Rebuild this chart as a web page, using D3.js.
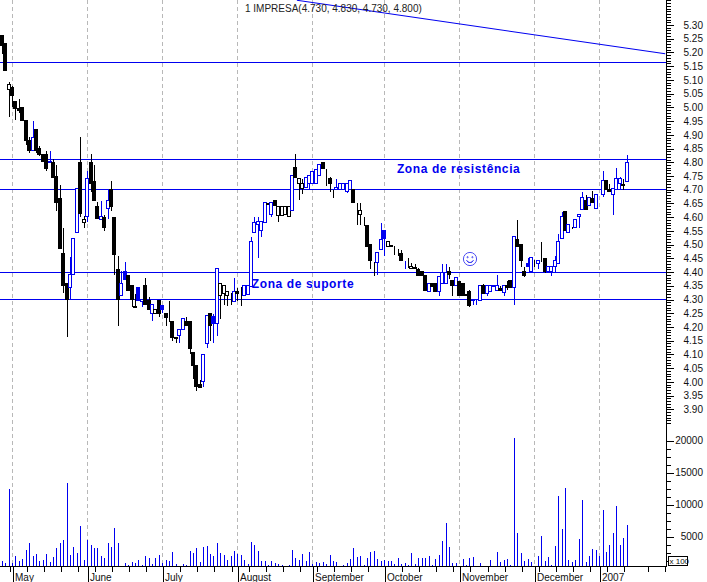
<!DOCTYPE html>
<html><head><meta charset="utf-8">
<script src="https://cdn.jsdelivr.net/npm/d3@7"></script>
<style>
html,body{margin:0;padding:0;background:#fff;overflow:hidden}
svg{display:block}
text{font-family:"Liberation Sans",Arial,sans-serif}
</style></head><body><div id="chart"></div>
<script>
const opens=[5.263,5.234,5.066,5.073,5.022,4.995,5.000,4.953,4.880,4.841,
4.920,4.851,4.829,4.829,4.798,4.800,4.749,4.669,4.469,4.359,
4.345,4.392,4.543,4.800,4.579,4.601,4.800,4.731,4.640,4.591,
4.599,4.633,4.701,4.600,4.410,4.313,4.403,4.389,4.352,4.276,
4.342,4.294,4.352,4.297,4.249,4.249,4.297,4.279,4.249,4.221,
4.221,4.160,4.169,4.191,4.221,4.221,4.107,4.061,3.990,4.000,
4.140,4.250,4.239,4.213,4.315,4.322,4.315,4.325,4.293,4.330,
4.322,4.316,4.319,4.346,4.544,4.575,4.550,4.581,4.647,4.611,
4.661,4.607,4.607,4.610,4.601,4.623,4.782,4.723,4.704,4.708,
4.723,4.723,4.723,4.753,4.799,4.750,4.741,4.702,4.701,4.701,
4.701,4.692,4.701,4.701,4.652,4.610,4.601,4.571,4.500,4.437,
4.433,4.482,4.552,4.494,4.494,4.494,4.470,4.468,4.441,4.437,
4.413,4.413,4.409,4.401,4.386,4.328,4.358,4.359,4.328,4.358,
4.358,4.401,4.370,4.350,4.367,4.358,4.319,4.328,4.295,4.300,
4.297,4.352,4.322,4.328,4.346,4.334,4.340,4.324,4.352,4.370,
4.344,4.520,4.502,4.401,4.431,4.403,4.435,4.431,4.437,4.449,
4.403,4.403,4.419,4.431,4.522,4.622,4.544,4.567,4.562,4.601,
4.629,4.662,4.644,4.668,4.632,4.684,4.684,4.732,4.702,4.682,
4.702,4.723,4.718,4.730];
const closes=[5.224,5.133,5.084,5.042,4.995,4.990,4.953,4.880,4.844,4.891,
4.844,4.829,4.801,4.778,4.801,4.743,4.652,4.484,4.350,4.300,
4.392,4.523,4.704,4.613,4.593,4.742,4.723,4.662,4.595,4.603,
4.564,4.662,4.640,4.465,4.301,4.360,4.373,4.331,4.301,4.272,
4.295,4.301,4.282,4.264,4.280,4.265,4.249,4.264,4.233,4.220,
4.160,4.158,4.192,4.231,4.206,4.120,4.061,3.982,3.980,4.101,
4.242,4.204,4.211,4.413,4.360,4.350,4.328,4.325,4.328,4.322,
4.321,4.350,4.350,4.512,4.581,4.583,4.583,4.653,4.650,4.653,
4.641,4.640,4.639,4.638,4.637,4.750,4.743,4.742,4.723,4.743,
4.753,4.765,4.774,4.792,4.779,4.750,4.723,4.702,4.707,4.723,
4.723,4.723,4.733,4.653,4.652,4.623,4.601,4.492,4.441,4.437,
4.471,4.520,4.521,4.512,4.498,4.494,4.470,4.441,4.441,4.437,
4.419,4.418,4.389,4.386,4.331,4.360,4.348,4.330,4.385,4.398,
4.398,4.391,4.350,4.380,4.316,4.315,4.314,4.279,4.300,4.300,
4.352,4.322,4.352,4.352,4.352,4.352,4.331,4.352,4.345,4.344,
4.529,4.492,4.441,4.389,4.419,4.453,4.435,4.441,4.437,4.403,
4.419,4.421,4.441,4.511,4.603,4.550,4.573,4.567,4.591,4.610,
4.670,4.629,4.672,4.652,4.684,4.684,4.732,4.702,4.695,4.704,
4.741,4.741,4.715,4.800];
const highs=[5.263,5.234,5.095,5.081,5.022,5.032,5.000,4.953,4.892,4.953,
4.920,4.862,4.829,4.844,4.844,4.815,4.793,4.720,4.564,4.359,
4.455,4.523,4.704,4.892,4.607,4.771,4.833,4.793,4.656,4.662,
4.611,4.704,4.735,4.600,4.461,4.407,4.440,4.389,4.352,4.323,
4.342,4.301,4.380,4.312,4.280,4.265,4.297,4.279,4.249,4.297,
4.221,4.160,4.192,4.231,4.239,4.221,4.107,4.061,4.010,4.101,
4.242,4.250,4.250,4.413,4.360,4.350,4.328,4.325,4.380,4.344,
4.346,4.350,4.350,4.531,4.603,4.601,4.583,4.653,4.650,4.653,
4.661,4.640,4.639,4.638,4.637,4.750,4.832,4.742,4.742,4.743,
4.753,4.765,4.774,4.795,4.799,4.779,4.747,4.702,4.741,4.723,
4.723,4.723,4.733,4.701,4.653,4.652,4.603,4.571,4.500,4.437,
4.471,4.581,4.552,4.512,4.498,4.498,4.486,4.483,4.441,4.453,
4.435,4.431,4.418,4.401,4.386,4.360,4.358,4.359,4.385,4.431,
4.431,4.421,4.370,4.380,4.367,4.358,4.319,4.338,4.300,4.300,
4.352,4.360,4.352,4.352,4.352,4.392,4.350,4.352,4.370,4.370,
4.529,4.592,4.502,4.421,4.453,4.453,4.445,4.441,4.512,4.449,
4.419,4.421,4.461,4.540,4.622,4.622,4.573,4.567,4.591,4.610,
4.692,4.684,4.672,4.698,4.684,4.684,4.771,4.732,4.723,4.704,
4.781,4.749,4.741,4.830];
const lows=[5.197,5.133,4.965,5.002,4.956,4.983,4.953,4.866,4.834,4.841,
4.834,4.823,4.801,4.771,4.798,4.743,4.623,4.484,4.324,4.164,
4.301,4.392,4.543,4.603,4.564,4.583,4.692,4.662,4.595,4.591,
4.552,4.596,4.623,4.392,4.204,4.313,4.373,4.331,4.273,4.270,
4.295,4.273,4.282,4.264,4.222,4.249,4.237,4.251,4.204,4.220,
4.152,4.142,4.142,4.191,4.206,4.104,4.014,3.970,3.980,3.982,
4.124,4.152,4.142,4.170,4.231,4.282,4.279,4.282,4.293,4.297,
4.279,4.316,4.319,4.346,4.544,4.453,4.531,4.581,4.647,4.601,
4.641,4.583,4.607,4.610,4.601,4.623,4.743,4.664,4.686,4.708,
4.701,4.723,4.723,4.753,4.779,4.716,4.695,4.672,4.701,4.701,
4.701,4.690,4.701,4.653,4.573,4.573,4.571,4.492,4.413,4.389,
4.391,4.482,4.461,4.494,4.494,4.465,4.461,4.441,4.413,4.418,
4.413,4.413,4.389,4.386,4.331,4.328,4.348,4.330,4.313,4.358,
4.358,4.376,4.313,4.350,4.316,4.315,4.314,4.273,4.283,4.283,
4.297,4.322,4.316,4.328,4.346,4.334,4.331,4.316,4.338,4.344,
4.282,4.492,4.421,4.382,4.419,4.403,4.419,4.413,4.437,4.400,
4.403,4.389,4.403,4.431,4.522,4.550,4.544,4.560,4.562,4.562,
4.629,4.629,4.644,4.652,4.632,4.684,4.674,4.702,4.695,4.611,
4.702,4.702,4.702,4.730];
const volumes=[1200,900,12400,900,2000,1200,1500,2900,4000,2000,
2300,1200,1350,2300,1050,1800,3200,4000,4500,13400,
2150,3400,2450,6650,1350,4500,3700,3200,3200,2000,
1650,4000,3400,6350,4000,0,900,550,1050,900,
1350,550,2000,1650,750,1650,2150,900,1350,1200,
2600,750,0,750,550,2750,2450,3200,1050,3400,
3550,2300,2000,4000,2450,2150,1350,2000,2750,2300,
2150,1350,750,4150,3700,2750,1200,1200,550,1200,
900,750,550,0,550,2900,1650,1350,2300,1200,
2600,750,1050,900,1050,750,2150,1200,1050,0,
550,900,1500,3200,1800,2000,550,1650,2600,2750,
1500,1200,1350,1200,1200,750,1650,750,900,550,
2450,750,1650,1650,1650,2000,550,1500,2150,4300,
7100,3400,900,900,0,1500,550,1650,1800,0,
900,0,0,1350,0,2600,1050,1350,1500,550,
20400,5550,2450,1200,1500,1050,0,2000,5100,1200,
1800,550,3550,11350,6200,12600,1350,1050,1350,4650,
10700,1050,2000,3050,2900,2000,9150,2600,3700,5550,
9800,3700,4800,6800];

const monthLabels=["May","June","July","August","September","October","November","December","2007"];
const monthStarts=[3,25,47,69,91,112,134,156,175];
const weekTicks=[2,7,12,17,22,27,32,37,42,52,57,62,67,72,77,82,87,92,97,102,107,117,122,127,132,137,142,147,152,157,162,167,172,177,182,189,194];
const levels=[5.163,4.81,4.70,4.40,4.30];
const trendIdx=[86.3,194.2];
const trendPrice=[5.39,5.195];
const title="1 IMPRESA(4.730, 4.830, 4.730, 4.800)";
const notes=[{t:"Zona de resistência",i:115.6,p:4.76},{t:"Zona de suporte",i:73.1,p:4.341}];

const W=707,H=582,axisX=666.5,baseY=566;
const BLUE="#0000f0",BLACK="#000";
const x=d3.scaleLinear().domain([0,183]).range([2.3,627]);
const y=d3.scaleLinear().domain([4.3,5.3]).range([299.5,25]);
const yV=d3.scaleLinear().domain([0,20000]).range([568.7,440.7]);
const px=i=>Math.floor(x(i));
const py=p=>Math.floor(y(p))+0.5;

const svg=d3.select("#chart").append("svg").attr("width",W).attr("height",H).style("background","#fff");
const crisp=svg.append("g").attr("shape-rendering","crispEdges");

// month gridlines
crisp.append("g").selectAll("line").data(monthStarts).join("line")
 .attr("x1",d=>px(d)+0.5).attr("x2",d=>px(d)+0.5).attr("y1",0).attr("y2",baseY)
 .attr("stroke","#b8b8b8").attr("stroke-dasharray","4,3");

// horizontal levels
crisp.append("g").selectAll("line").data(levels).join("line")
 .attr("x1",0).attr("x2",axisX).attr("y1",d=>py(d)).attr("y2",d=>py(d))
 .attr("stroke",BLUE);

// trend line
svg.append("line").attr("x1",x(trendIdx[0])).attr("x2",x(trendIdx[1]))
 .attr("y1",y(trendPrice[0])).attr("y2",y(trendPrice[1]))
 .attr("stroke",BLUE).attr("stroke-width",1.1);

// candles
const candles=d3.range(opens.length).map(i=>({i,o:opens[i],h:highs[i],l:lows[i],c:closes[i],
  col:(i===0||closes[i]>=closes[i-1])?BLUE:BLACK,hollow:closes[i]>opens[i]}));
if(candles.length) candles[0].col=BLACK;
const cg=crisp.append("g");
cg.selectAll("line").data(candles).join("line")
 .attr("x1",d=>px(d.i)+0.5).attr("x2",d=>px(d.i)+0.5)
 .attr("y1",d=>py(d.h)).attr("y2",d=>py(d.l)).attr("stroke",d=>d.col);
cg.selectAll("rect").data(candles).join("rect")
 .attr("x",d=>px(d.i)-1.5)
 .attr("width",3)
 .attr("y",d=>py(Math.max(d.o,d.c)))
 .attr("height",d=>Math.max(py(Math.min(d.o,d.c))-py(Math.max(d.o,d.c)),0))
 .attr("fill",d=>d.hollow?"#fff":d.col)
 .attr("stroke",d=>d.col);

// volume bars
crisp.append("g").selectAll("rect").data(volumes.map((v,i)=>({v,i})).filter(d=>d.v>0)).join("rect")
 .attr("x",d=>px(d.i)).attr("width",1)
 .attr("y",d=>yV(d.v)).attr("height",d=>Math.max(baseY-yV(d.v),0))
 .attr("fill",BLUE);

// right axes
function styleAxis(g){g.selectAll(".domain").remove();g.selectAll("line").attr("stroke","#000");
 g.selectAll("text").attr("x",36.5).attr("text-anchor","end").attr("font-size",10).attr("fill","#111");}
const priceMinor=d3.range(385,540).map(d=>d/100);
const priceMajor=d3.range(390,535,5).map(d=>d/100);
const axes=crisp.append("g").attr("transform",`translate(${axisX},0)`);
axes.append("g").call(d3.axisRight(y).tickValues(priceMinor).tickSize(4).tickFormat(""));
axes.append("g").call(d3.axisRight(y).tickValues(priceMajor).tickSize(7).tickFormat(d3.format(".2f"))).call(styleAxis);
axes.append("g").call(d3.axisRight(yV).tickValues(d3.range(1250,20001,1250)).tickSize(4).tickFormat(""));
axes.append("g").call(d3.axisRight(yV).tickValues([5000,10000,15000,20000]).tickSize(7).tickFormat(d3.format("d"))).call(styleAxis);
axes.selectAll(".domain").remove();
axes.selectAll("line").attr("stroke","#000");
crisp.append("line").attr("x1",axisX).attr("x2",axisX).attr("y1",0).attr("y2",baseY+0.5).attr("stroke","#000");

// bottom axes
const bottom=crisp.append("g").attr("transform",`translate(0,${baseY+0.5})`);
bottom.append("g").call(d3.axisBottom(d3.scaleIdentity()).tickFormat("").tickValues(weekTicks.map(d=>px(d)+0.5)).tickSize(5));
bottom.append("g").call(d3.axisBottom(d3.scaleIdentity()).tickFormat("").tickValues(monthStarts.map(d=>px(d)+0.5)).tickSize(16));
bottom.selectAll(".domain").remove();
bottom.selectAll("line").attr("stroke","#000");
crisp.append("line").attr("x1",0).attr("x2",axisX).attr("y1",baseY+0.5).attr("y2",baseY+0.5).attr("stroke","#000");

svg.append("g").selectAll("text").data(monthLabels).join("text")
 .attr("x",(d,i)=>px(monthStarts[i])+3).attr("y",581).attr("font-size",10).attr("fill","#111").text(d=>d);

// x 100 box
crisp.append("rect").attr("x",668.5).attr("y",556.5).attr("width",19).attr("height",9).attr("fill","#fff").attr("stroke","#000");
svg.append("text").attr("x",669.5).attr("y",564).attr("font-size",8).attr("fill","#111").text("x 100");

// title
svg.append("text").attr("x",245).attr("y",12).attr("font-size",10).attr("fill","#222").text(title);

// annotations
svg.append("g").selectAll("text").data(notes).join("text")
 .attr("x",d=>x(d.i)).attr("y",d=>y(d.p)).attr("font-size",12).attr("font-weight","bold")
 .attr("letter-spacing",0.6).attr("fill",BLUE).text(d=>d.t);

// smiley
const sm=svg.append("g").attr("transform","translate(470,259)").attr("fill","none").attr("stroke","#3a3af0").attr("stroke-width",0.9);
sm.append("circle").attr("r",6.6);
sm.append("path").attr("d",d3.arc()({innerRadius:3.6,outerRadius:3.6,startAngle:Math.PI*0.62,endAngle:Math.PI*1.38}));
sm.append("circle").attr("cx",-2.4).attr("cy",-1.8).attr("r",0.6);
sm.append("circle").attr("cx",2.4).attr("cy",-1.8).attr("r",0.6);
</script></body></html>
